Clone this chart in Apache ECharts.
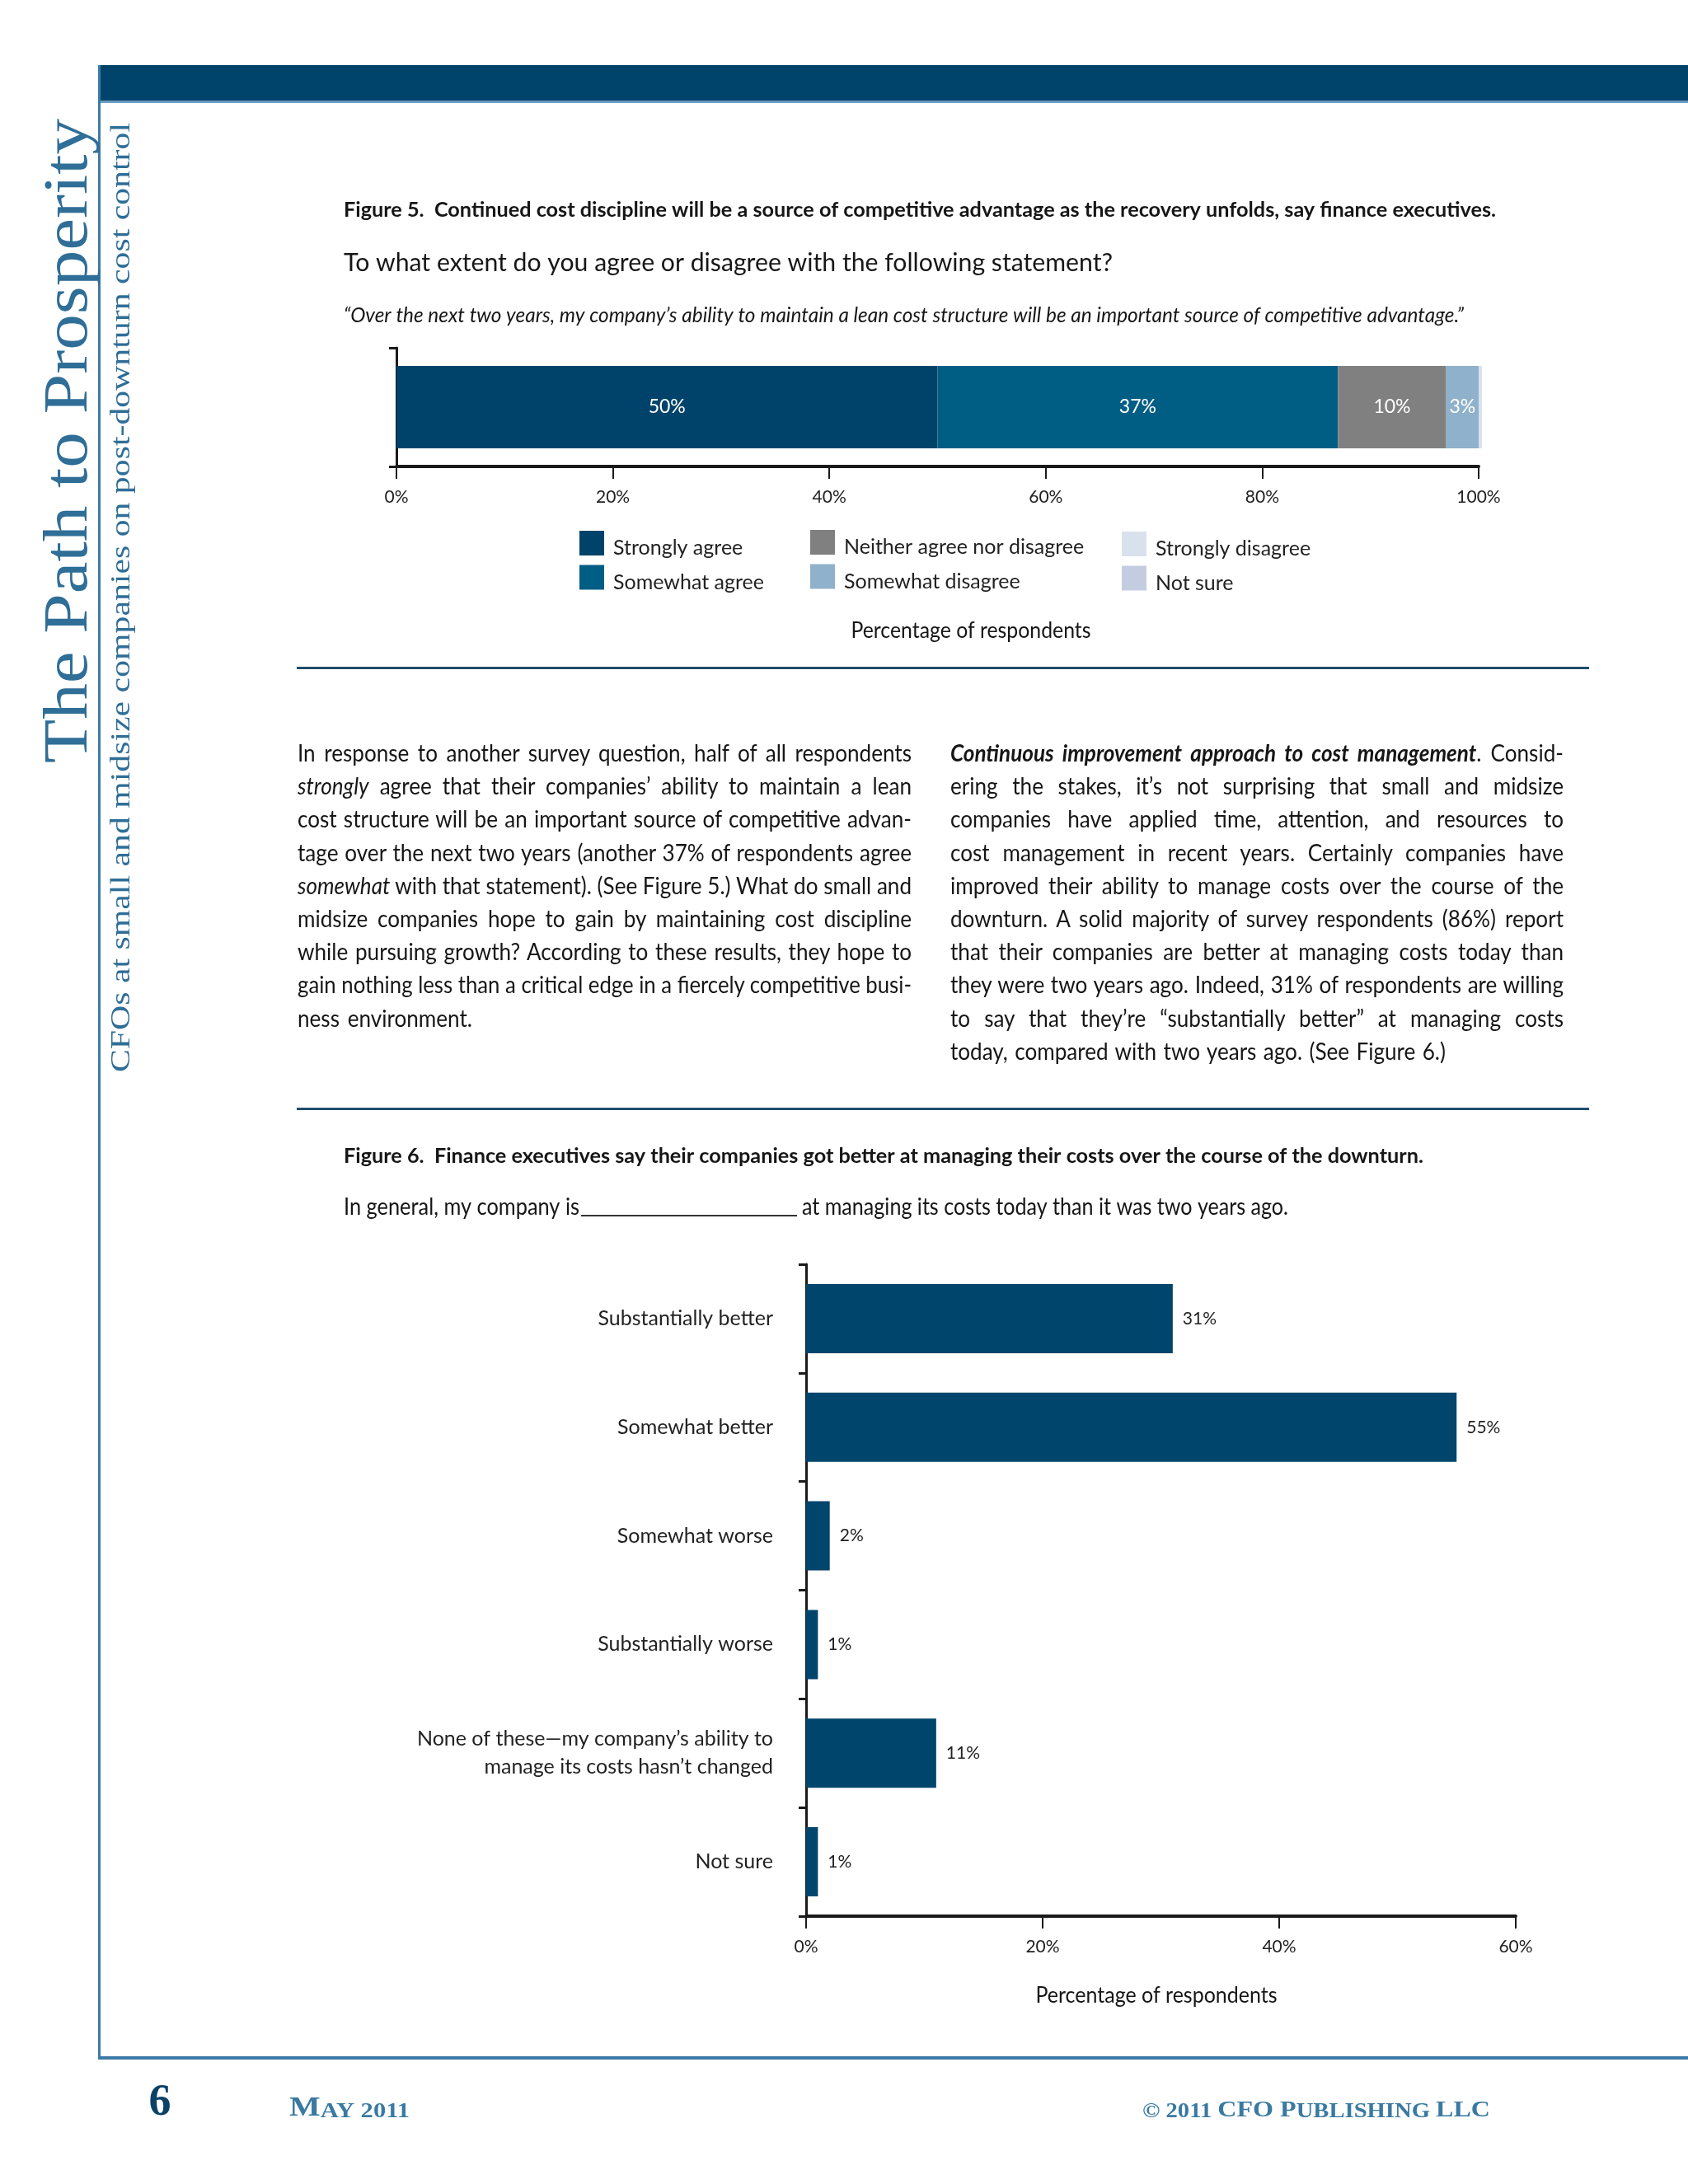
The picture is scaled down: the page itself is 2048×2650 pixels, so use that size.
<!DOCTYPE html>
<html><head><meta charset="utf-8">
<script src="https://cdn.jsdelivr.net/npm/echarts@6/dist/echarts.min.js"></script>
<style>
html,body{margin:0;padding:0;background:#fff;}
#page{position:relative;width:2048px;height:2650px;overflow:hidden;background:#fff;}
#chart{position:absolute;left:0;top:0;width:2048px;height:2650px;}
.ln{position:absolute;white-space:nowrap;font-family:Lato,'Open Sans',sans-serif;font-size:29px;line-height:40px;color:#161616;transform-origin:0 50%;}
</style></head><body>
<div id="page"><div id="chart"></div><div id="body"></div></div>
<script>
// ---------------- DATA ----------------
const fig5Categories = [''];
const fig5SeriesNames = ['Strongly agree','Somewhat agree','Neither agree nor disagree','Somewhat disagree','Strongly disagree','Not sure'];
const fig5Values = [50, 37, 10, 3, 0.3, 0];
const fig5TickValues = [0, 20, 40, 60, 80, 100];
const fig5LegendCols = [['Strongly agree','Somewhat agree'],['Neither agree nor disagree','Somewhat disagree'],['Strongly disagree','Not sure']];

const fig6Categories = ['Substantially better','Somewhat better','Somewhat worse','Substantially worse','None of these\u2014my company\u2019s ability to\nmanage its costs hasn\u2019t changed','Not sure'];
const fig6Values = [31, 55, 2, 1, 11, 1];
const fig6TickValues = [0, 20, 40, 60];

const fig5Colors = ['#00436a','#005d84','#808080','#8fb1cb','#d8e2ec','#c4cde0'];
const fig6Color = '#00456c';

const leftLines = [
"In response to another survey question, half of all respondents",
"<i>strongly</i> agree that their companies\u2019 ability to maintain a lean",
"cost structure will be an important source of competitive advan-",
"tage over the next two years (another 37% of respondents agree",
"<i>somewhat</i> with that statement). (See Figure 5.) What do small and",
"midsize companies hope to gain by maintaining cost discipline",
"while pursuing growth? According to these results, they hope to",
"gain nothing less than a critical edge in a fiercely competitive busi-",
"ness environment."
];
const rightLines = [
"<b><i>Continuous improvement approach to cost management</i></b>. Consid-",
"ering the stakes, it\u2019s not surprising that small and midsize",
"companies have applied time, attention, and resources to",
"cost management in recent years. Certainly companies have",
"improved their ability to manage costs over the course of the",
"downturn. A solid majority of survey respondents (86%) report",
"that their companies are better at managing costs today than",
"they were two years ago. Indeed, 31% of respondents are willing",
"to say that they\u2019re \u201csubstantially better\u201d at managing costs",
"today, compared with two years ago. (See Figure 6.)"
];

// ---------------- HELPERS ----------------
const mctx = document.createElement('canvas').getContext('2d');
function measure(text, font){ mctx.font = font; return mctx.measureText(text).width; }
function gt(text, x, y, o){
  const fam = o.family || 'Lato';
  const size = o.size, weight = o.weight || 'normal', fstyle = o.fstyle || 'normal';
  let sx = 1;
  if (o.width) sx = o.width / measure(text, fstyle + ' ' + weight + ' ' + size + "px '" + fam + "'");
  return {type:'text', x:x, y:y, rotation:o.rot||0, scaleX:sx, silent:true, z:10,
    style:{text:text, fill:o.color||'#161616', fontSize:size, fontFamily:fam, fontWeight:weight, fontStyle:fstyle,
      align:o.align||'left', verticalAlign:o.va||'middle'}};
}
function rect(x,y,w,h,c){ return {type:'rect', silent:true, z:5, shape:{x:x,y:y,width:w,height:h}, style:{fill:c}}; }

// ---------------- BODY TEXT (HTML) ----------------
function layLines(lines, x0, W, lastW){
  const body = document.getElementById('body');
  lines.forEach((html, i) => {
    const d = document.createElement('div');
    d.className = 'ln';
    d.innerHTML = html;
    d.style.left = x0 + 'px';
    d.style.top = (915 + 40.2 * i - 22) + 'px';
    body.appendChild(d);
    const w = d.getBoundingClientRect().width;
    const target = (i === lines.length - 1) ? lastW : W;
    const n = (d.textContent.match(/ /g) || []).length;
    let s = 0.9, extra = 0;
    if (w * s <= target) { extra = n ? (target / s - w) / n : 0; }
    else { s = target / w; }
    d.style.wordSpacing = extra + 'px';
    d.style.transform = 'scaleX(' + s + ')';
  });
}
layLines(leftLines, 361, 745, 212);
layLines(rightLines, 1153, 744, 601);

// ---------------- CHART ----------------
const chart = echarts.init(document.getElementById('chart'), null, {renderer:'canvas', width:2048, height:2650});
const ink = '#1a1a1a';
const serif = 'Liberation Serif';

const graphics = [
  rect(120, 79, 1928, 43, '#00446b'),
  rect(120, 122, 1928, 3, '#6b9dc2'),
  rect(119, 79, 3, 2420, '#3d7ba6'),
  rect(119, 2495, 1929, 4, '#3d7ba6'),
  rect(360, 809, 1568, 3, '#1f4d6e'),
  rect(360, 1344, 1568, 3, '#1f4d6e'),
  gt('The Path to Prosperity', 85, 535, {family:serif, size:76, width:782, rot:Math.PI/2, align:'center', color:'#2f6e97'}),
  gt('CFOs at small and midsize companies on post-downturn cost control', 148, 725, {family:serif, size:33, width:1152, rot:Math.PI/2, align:'center', color:'#2f6e97'}),
  gt('Figure 5.  Continued cost discipline will be a source of competitive advantage as the recovery unfolds, say finance executives.', 417, 255, {size:25, weight:'bold', width:1398}),
  gt('To what extent do you agree or disagree with the following statement?', 417, 319, {size:30, width:933}),
  gt('\u201cOver the next two years, my company\u2019s ability to maintain a lean cost structure will be an important source of competitive advantage.\u201d', 417, 383, {size:25, fstyle:'italic', width:1359}),
  gt('Percentage of respondents', 1178, 765, {size:27, width:291, align:'center'}),
  gt('Figure 6.  Finance executives say their companies got better at managing their costs over the course of the downturn.', 417, 1403, {size:25, weight:'bold', width:1310}),
  gt('In general, my company is', 417, 1465, {size:28, width:286}),
  {type:'line', silent:true, z:10, shape:{x1:705, y1:1475, x2:967, y2:1475}, style:{stroke:'#333', lineWidth:2}},
  gt('at managing its costs today than it was two years ago.', 973, 1465, {size:28, width:590}),
  gt('Percentage of respondents', 1403, 2421, {size:27, width:293, align:'center'}),
  gt('6', 194, 2579, {family:serif, size:54, weight:'bold', align:'center', va:'bottom', color:'#0a4267'}),
  {type:'text', x:351, y:2575, silent:true, z:10, style:{text:'{a|M}{b|AY 2011}', align:'left', verticalAlign:'bottom',
    rich:{a:{fontFamily:serif, fontWeight:'bold', fontSize:34, fill:'#3a7aa2', verticalAlign:'bottom'},
          b:{fontFamily:serif, fontWeight:'bold', fontSize:26, fill:'#3a7aa2', verticalAlign:'bottom'}}}},
  {type:'text', x:1386, y:2575, silent:true, z:10, style:{text:'{b|\u00a9 2011 }{a|CFO P}{b|UBLISHING }{a|LLC}', align:'left', verticalAlign:'bottom',
    rich:{a:{fontFamily:serif, fontWeight:'bold', fontSize:28, fill:'#3a7aa2', verticalAlign:'bottom'},
          b:{fontFamily:serif, fontWeight:'bold', fontSize:25, fill:'#3a7aa2', verticalAlign:'bottom'}}}}
];
// fit footer widths
(function(){
  const el = graphics[graphics.length-1];
  const w = measure('\u00a9 2011 ', "bold 25px 'Liberation Serif'") + measure('CFO P', "bold 28px 'Liberation Serif'") +
            measure('UBLISHING ', "bold 25px 'Liberation Serif'") + measure('LLC', "bold 28px 'Liberation Serif'");
  el.scaleX = 422 / w;
  const el2 = graphics[graphics.length-2];
  const w2 = measure('M', "bold 34px 'Liberation Serif'") + measure('AY 2011', "bold 26px 'Liberation Serif'");
  el2.scaleX = 146 / w2;
})();

const axisLabelFont = {fontFamily:'Lato', fontSize:21, color:'#222'};
function valueAxis(grid, ticks){
  return {gridIndex:grid, type:'value', min:ticks[0], max:ticks[ticks.length-1], interval:ticks[1]-ticks[0],
    axisLine:{show:true, lineStyle:{color:ink, width:4}},
    axisTick:{show:true, length:15, lineStyle:{color:ink, width:2}},
    splitLine:{show:false},
    axisLabel:Object.assign({margin:27, formatter:'{value}%'}, axisLabelFont)};
}

const legends = fig5LegendCols.map((names, i) => ({
  data:names, orient:'vertical', left:[703,983,1361][i], top:[644,643,645][i], padding:0,
  itemWidth:30, itemHeight:30, itemGap:8, icon:'rect', selectedMode:false,
  formatter:name => '{t|' + name + '}',
  textStyle:{fontFamily:'Lato', fontSize:25, color:'#222',
    rich:{t:{fontFamily:'Lato', fontSize:25, color:'#222', padding:[12,0,0,6]}}}
}));

const fig5Series = fig5SeriesNames.map((name, i) => ({
  name:name, type:'bar', xAxisIndex:0, yAxisIndex:0, stack:'total', barWidth:100, clip:false,
  itemStyle:{color:fig5Colors[i]},
  label:{show:true, position:'inside', color:'#fff', fontFamily:'Lato', fontSize:23,
    formatter:p => p.value >= 1 ? Math.round(p.value) + '%' : ''},
  data:[fig5Values[i]]
}));

const option = {
  animation:false,
  backgroundColor:'#ffffff',
  graphic:{elements:graphics},
  legend:legends,
  grid:[
    {left:481, top:422, width:1313, height:144},
    {left:978, top:1534, width:861, height:791}
  ],
  xAxis:[valueAxis(0, fig5TickValues), valueAxis(1, fig6TickValues)],
  yAxis:[
    {gridIndex:0, type:'category', data:fig5Categories,
      axisLine:{show:true, lineStyle:{color:ink, width:3}},
      axisTick:{show:true, length:9, lineStyle:{color:ink, width:3}},
      axisLabel:{show:false}},
    {gridIndex:1, type:'category', inverse:true, data:fig6Categories,
      axisLine:{show:true, lineStyle:{color:ink, width:3}},
      axisTick:{show:true, length:9, lineStyle:{color:ink, width:3}},
      axisLabel:{interval:0, fontFamily:'Lato', fontSize:25, color:'#222', margin:40, lineHeight:34, align:'right'}}
  ],
  series:fig5Series.concat([{
    type:'bar', xAxisIndex:1, yAxisIndex:1, barWidth:84,
    itemStyle:{color:fig6Color},
    label:{show:true, position:'right', distance:12, fontFamily:'Lato', fontSize:21, color:'#222', formatter:'{c}%'},
    data:fig6Values
  }])
};
chart.setOption(option);
</script>
</body></html>
